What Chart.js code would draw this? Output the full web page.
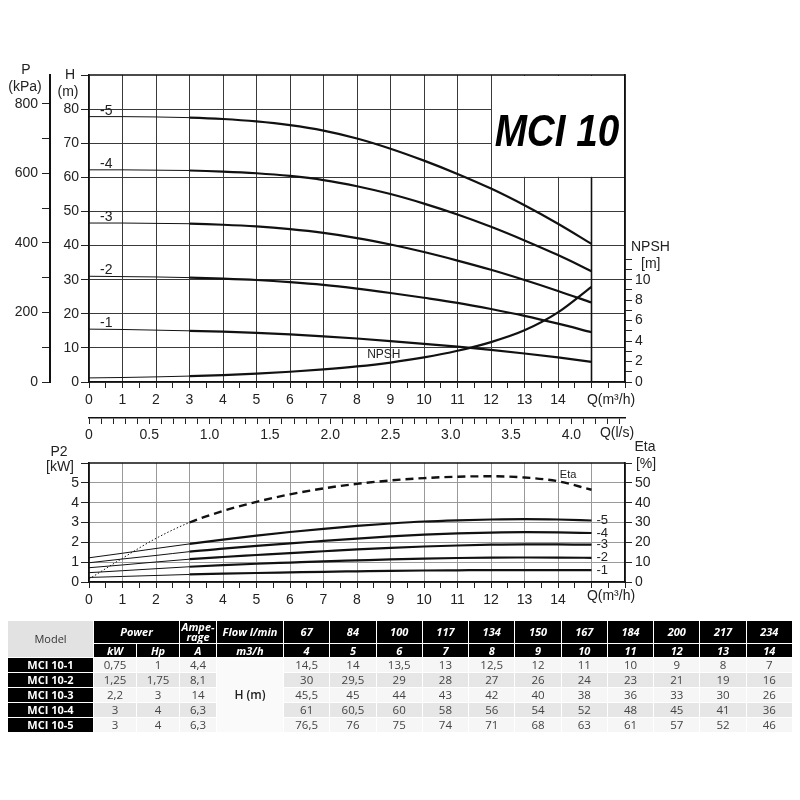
<!DOCTYPE html>
<html>
<head>
<meta charset="utf-8">
<script src="https://cdn.jsdelivr.net/npm/chart.js@4.4.1/dist/chart.umd.min.js"></script>
<style>
  html, body { margin: 0; padding: 0; background: #fff; }
  #wrap { position: relative; width: 800px; height: 800px; overflow: hidden; }
  #topChart { position: absolute; left: 0; top: 60px; }
  #botChart { position: absolute; left: 0; top: 436px; }
  #specs { position: absolute; left: 7px; top: 620px; width: 786px; table-layout: fixed;
    border-collapse: separate; border-spacing: 1px; font-family: "Open Sans", sans-serif; font-size: 11.5px; }
  #specs th { background: #000; color: #fff; font-style: italic; font-weight: bold; padding: 0; text-align: center; line-height: 12px; font-size: 11px; }
  #specs th.model { background: #e2e2e2; color: #333; font-style: normal; font-weight: normal; }
  #specs tr.h1 th { height: 22px; }
  #specs tr.h2 th { height: 13px; }
  #specs td { text-align: center; color: #444; padding: 0; height: 14px; line-height: 14px; }
  #specs td.name { background: #000; color: #fff; font-weight: bold; font-size: 11px; }
  #specs tr.odd td { background: #f6f6f6; }
  #specs tr.even td { background: #e6e6e6; }
  #specs td.head { background: #fafafa !important; color: #222; font-weight: 600; font-size: 12px; }
  #specs tr td.name { background: #000; }
</style>
</head>
<body>
<div id="wrap">
  <canvas id="topChart" width="800" height="390"></canvas>
  <canvas id="botChart" width="800" height="174"></canvas>
  <table id="specs"></table>
</div>
<script>
// flow points of the curves, Q in m3/h
const qPoints = [0, 1, 2, 3, 4, 5, 6, 7, 8, 9, 10, 11, 12, 13, 14, 15];

// head H (m) per stage count
const head1 = [15.5, 15.4, 15.2, 15, 14.75, 14.4, 13.95, 13.4, 12.75, 12.0, 11.2, 10.35, 9.4, 8.35, 7.2, 5.9];
const head2 = [31, 30.9, 30.8, 30.6, 30.3, 29.9, 29.3, 28.5, 27.4, 26.1, 24.7, 23.2, 21.4, 19.4, 17.1, 14.6];
const head3 = [46.6, 46.6, 46.5, 46.4, 46.1, 45.6, 44.8, 43.7, 42.2, 40.3, 38.1, 35.6, 32.9, 29.9, 26.7, 23.3];
const head4 = [62.2, 62.2, 62.1, 62, 61.7, 61.2, 60.4, 59.2, 57.4, 55.1, 52.3, 49.1, 45.5, 41.5, 37.2, 32.5];
const head5 = [77.8, 77.8, 77.7, 77.5, 77.1, 76.4, 75.3, 73.7, 71.4, 68.4, 64.9, 61.0, 56.7, 51.8, 46.4, 40.5];
const npshReq = [0.4, 0.44, 0.5, 0.58, 0.68, 0.82, 1.0, 1.23, 1.52, 1.9, 2.4, 3.05, 3.9, 5.05, 6.8, 9.3];

// shaft power P2 (kW) per stage count
const power1 = [0.23, 0.28, 0.33, 0.38, 0.42, 0.455, 0.485, 0.515, 0.54, 0.565, 0.58, 0.59, 0.6, 0.6, 0.6, 0.6];
const power2 = [0.47, 0.57, 0.67, 0.77, 0.85, 0.92, 0.98, 1.04, 1.09, 1.14, 1.18, 1.21, 1.23, 1.235, 1.23, 1.22];
const power3 = [0.72, 0.86, 1.01, 1.15, 1.26, 1.36, 1.46, 1.55, 1.64, 1.72, 1.79, 1.84, 1.88, 1.9, 1.9, 1.88];
const power4 = [0.97, 1.16, 1.34, 1.53, 1.68, 1.82, 1.95, 2.07, 2.19, 2.3, 2.39, 2.45, 2.49, 2.51, 2.5, 2.47];
const power5 = [1.22, 1.45, 1.69, 1.92, 2.14, 2.34, 2.52, 2.68, 2.83, 2.95, 3.05, 3.11, 3.15, 3.17, 3.15, 3.1];
const efficiency = [1.5, 12, 22, 30, 35.8, 40.4, 44.2, 47.2, 49.5, 51.2, 52.4, 53.1, 53.3, 52.7, 50.8, 46.5];

// table
const models = ['MCI 10-1', 'MCI 10-2', 'MCI 10-3', 'MCI 10-4', 'MCI 10-5'];
const powerKw = ['0,75', '1,25', '2,2', '3', '3'];
const powerHp = ['1', '1,75', '3', '4', '4'];
const ampere = ['4,4', '8,1', '14', '6,3', '6,3'];
const flowLmin = ['67', '84', '100', '117', '134', '150', '167', '184', '200', '217', '234'];
const flowM3h = ['4', '5', '6', '7', '8', '9', '10', '11', '12', '13', '14'];
const tableH1 = ['14,5', '14', '13,5', '13', '12,5', '12', '11', '10', '9', '8', '7'];
const tableH2 = ['30', '29,5', '29', '28', '27', '26', '24', '23', '21', '19', '16'];
const tableH3 = ['45,5', '45', '44', '43', '42', '40', '38', '36', '33', '30', '26'];
const tableH4 = ['61', '60,5', '60', '58', '56', '54', '52', '48', '45', '41', '36'];
const tableH5 = ['76,5', '76', '75', '74', '71', '68', '63', '61', '57', '52', '46'];

const FONT = '"Liberation Sans", Arial, sans-serif';
Chart.defaults.font.family = FONT;
Chart.defaults.font.size = 14;
Chart.defaults.color = '#222';

const pts = arr => qPoints.map((q, i) => ({ x: q, y: arr[i] }));
const thinThenThick = { borderWidth: c => (c.p0.parsed.x < 3 ? 1 : 2.2) };

function curve(arr, axis) {
  return {
    data: pts(arr), yAxisID: axis, borderColor: '#111', borderWidth: 2.2,
    pointRadius: 0, cubicInterpolationMode: 'monotone', segment: thinThenThick
  };
}

function stepTicks(from, to, step) {
  return scale => {
    const t = [];
    for (let v = from; v <= to + 1e-9; v += step) t.push({ value: Math.round(v * 1000) / 1000 });
    scale.ticks = t;
  };
}
const fixW = w => s => { s.width = w; };
const fixH = h => s => { s.height = h; };

// frame, white title box and free texts
const captions = {
  id: 'captions',
  beforeDatasetsDraw(chart, args, opts) {
    const { ctx, chartArea: a, scales } = chart;
    ctx.save();
    if (opts.box) {
      const bx = scales.x.getPixelForValue(opts.box.q);
      const by = scales.y.getPixelForValue(opts.box.v);
      ctx.fillStyle = '#fff';
      ctx.fillRect(bx + 1, a.top + 1, a.right - bx - 2, by - a.top - 1.5);
      const dx = scales.x.getPixelForValue(15);
      ctx.strokeStyle = '#111';
      ctx.lineWidth = 1.6;
      ctx.beginPath(); ctx.moveTo(dx, by); ctx.lineTo(dx, a.bottom); ctx.stroke();
    }
    ctx.strokeStyle = '#111';
    ctx.lineWidth = 1.5;
    ctx.strokeRect(a.left, a.top, a.right - a.left, a.bottom - a.top);
    ctx.restore();
  },
  afterDatasetsDraw(chart, args, opts) {
    const { ctx, scales } = chart;
    ctx.save();
    (opts.texts || []).forEach(t => {
      let x = t.x, y = t.y;
      if (t.q != null) { x = scales.x.getPixelForValue(t.q); y = scales[t.axis].getPixelForValue(t.v); }
      ctx.font = t.font || ('14px ' + FONT);
      ctx.fillStyle = t.color || '#222';
      ctx.textAlign = t.align || 'center';
      ctx.textBaseline = t.baseline || 'middle';
      ctx.translate(x, y);
      ctx.scale(t.sx || 1, 1);
      ctx.fillText(t.text, 0, 0);
      ctx.setTransform(1, 0, 0, 1, 0, 0);
    });
    ctx.restore();
  }
};

const heads = [head1, head2, head3, head4, head5];
const powers = [power1, power2, power3, power4, power5];

const qAxis = (gridColor, h) => ({
  type: 'linear', position: 'bottom', min: 0, max: 16, afterBuildTicks: stepTicks(0, 16, 0.5), afterFit: fixH(h),
  border: { color: '#111', width: 1.5 },
  grid: {
    color: c => (Number.isInteger(c.tick.value) && c.tick.value > 0 && c.tick.value < 16 ? gridColor : 'rgba(0,0,0,0)'),
    tickColor: '#222', tickLength: 6
  },
  ticks: { autoSkip: false, maxRotation: 0, padding: 4,
    callback: v => (Number.isInteger(v) && v <= 14 ? String(v) : '') }
});

new Chart(document.getElementById('topChart'), {
  type: 'line',
  data: {
    datasets: heads.map(h => curve(h, 'y')).concat([curve(npshReq, 'yN')])
  },
  options: {
    responsive: false, animation: false,
    layout: { padding: { top: 15, left: 0, right: 0, bottom: 0 } },
    plugins: {
      legend: { display: false }, tooltip: { enabled: false },
      captions: {
        box: { q: 12, v: 60 },
        texts: [
          { text: 'P', x: 26, y: 10 }, { text: '(kPa)', x: 25, y: 27 },
          { text: 'H', x: 70, y: 15 }, { text: '(m)', x: 68, y: 32 },
          { text: 'NPSH', x: 631, y: 187, align: 'left' }, { text: '[m]', x: 641, y: 204, align: 'left' },
          { text: 'Q(m³/h)', x: 611, y: 340 }, { text: 'Q(l/s)', x: 617, y: 373 },
          { text: 'MCI 10', x: 557, y: 86, font: 'italic bold 45px ' + FONT, color: '#000', baseline: 'alphabetic', sx: 0.86 },
          { text: 'NPSH', q: 8.8, v: 2.7, axis: 'yN', font: '12px ' + FONT }
        ].concat(heads.map((h, i) => ({ text: '-' + (i + 1), q: 0.33, v: h[0] + 1.7, axis: 'y', align: 'left' })))
      }
    },
    scales: {
      x: qAxis('#3a3a3a', 36),
      x2: {
        type: 'linear', position: 'bottom', min: 0, max: 16 / 3.6,
        afterBuildTicks: stepTicks(0, 4.4, 0.1), afterFit: fixH(32),
        border: { color: '#111', width: 1.5 },
        grid: { drawOnChartArea: false, tickColor: '#222', tickLength: 6 },
        ticks: { autoSkip: false, maxRotation: 0, padding: 3,
          callback: v => (Math.round(v * 10) % 5 === 0 ? (v === 0 ? '0' : v.toFixed(1)) : '') }
      },
      y: {
        type: 'linear', position: 'left', weight: 0, min: 0, max: 90,
        afterBuildTicks: stepTicks(0, 90, 5), afterFit: fixW(39),
        border: { color: '#111', width: 1.5 },
        grid: {
          color: c => (c.tick.value % 10 === 0 && c.tick.value > 0 && c.tick.value < 90 ? '#3a3a3a' : 'rgba(0,0,0,0)'),
          tickColor: '#222', tickLength: 8
        },
        ticks: { padding: 2, callback: v => (v % 10 === 0 && v <= 80 ? String(v) : '') }
      },
      yP: {
        type: 'linear', position: 'left', weight: 1, min: 0, max: 90 * 9.81,
        afterBuildTicks: stepTicks(0, 850, 50), afterFit: fixW(50),
        border: { color: '#111', width: 2 },
        grid: { drawOnChartArea: false, tickColor: '#222', tickLength: 8 },
        ticks: { padding: 4, callback: v => (v % 200 === 0 ? String(v) : '') }
      },
      yN: {
        type: 'linear', position: 'right', min: 0, max: 30,
        afterBuildTicks: stepTicks(0, 12, 1), afterFit: fixW(175),
        border: { color: '#111', width: 1.5 },
        grid: { drawOnChartArea: false, tickColor: '#222', tickLength: 7 },
        ticks: { padding: 3, callback: v => (v % 2 === 0 && v <= 10 ? String(v) : '') }
      }
    }
  },
  plugins: [captions]
});

const etaSet = {
  data: pts(efficiency), yAxisID: 'yE', borderColor: '#111', borderWidth: 2.4, pointRadius: 0,
  cubicInterpolationMode: 'monotone',
  segment: {
    borderWidth: c => (c.p0.parsed.x < 3 ? 1 : 2.4),
    borderDash: c => (c.p0.parsed.x < 3 ? [1.5, 2] : [8, 5])
  }
};

new Chart(document.getElementById('botChart'), {
  type: 'line',
  data: { datasets: powers.map(p => curve(p, 'y')).concat([etaSet]) },
  options: {
    responsive: false, animation: false,
    layout: { padding: { top: 27, left: 0, right: 0, bottom: 0 } },
    plugins: {
      legend: { display: false }, tooltip: { enabled: false },
      captions: {
        texts: [
          { text: 'P2', x: 59, y: 16 }, { text: '[kW]', x: 60, y: 31 },
          { text: 'Eta', x: 645, y: 11 }, { text: '[%]', x: 646, y: 28 },
          { text: 'Q(m³/h)', x: 611, y: 160 },
          { text: 'Eta', q: 14.3, v: 54, axis: 'yE', font: '11px ' + FONT }
        ].concat(powers.map((p, i) => ({ text: '-' + (i + 1), q: 15.15, v: p[15], axis: 'y', align: 'left', font: '13px ' + FONT })))
      }
    },
    scales: {
      x: qAxis('#9a9a9a', 28),
      y: {
        type: 'linear', position: 'left', min: 0, max: 6,
        afterBuildTicks: stepTicks(0, 6, 0.5), afterFit: fixW(89),
        border: { color: '#111', width: 1.5 },
        grid: {
          color: c => (Number.isInteger(c.tick.value) && c.tick.value > 0 && c.tick.value < 6 ? '#9a9a9a' : 'rgba(0,0,0,0)'),
          tickColor: '#222', tickLength: 8
        },
        ticks: { padding: 2, callback: v => (Number.isInteger(v) && v <= 5 ? String(v) : '') }
      },
      yE: {
        type: 'linear', position: 'right', min: 0, max: 60,
        afterBuildTicks: stepTicks(0, 60, 5), afterFit: fixW(175),
        border: { color: '#111', width: 1.5 },
        grid: { drawOnChartArea: false, tickColor: '#222', tickLength: 7 },
        ticks: { padding: 3, callback: v => (v % 10 === 0 && v <= 50 ? String(v) : '') }
      }
    }
  },
  plugins: [captions]
});

// spec table
const tableH = [tableH1, tableH2, tableH3, tableH4, tableH5];
let html = '<colgroup><col style="width:85px"><col style="width:42px"><col style="width:42px"><col style="width:36px"><col style="width:66px">'
  + flowLmin.map(() => '<col>').join('') + '</colgroup>';
html += '<tr class="h1"><th class="model" rowspan="2">Model</th><th colspan="2">Power</th><th style="line-height:10px">Ampe-<br>rage</th><th>Flow l/min</th>'
  + flowLmin.map(f => '<th>' + f + '</th>').join('') + '</tr>';
html += '<tr class="h2"><th>kW</th><th>Hp</th><th>A</th><th>m3/h</th>' + flowM3h.map(f => '<th>' + f + '</th>').join('') + '</tr>';
models.forEach((m, i) => {
  html += '<tr class="' + (i % 2 === 0 ? 'odd' : 'even') + '"><td class="name">' + m + '</td><td>' + powerKw[i] + '</td><td>' + powerHp[i]
    + '</td><td>' + ampere[i] + '</td>' + (i === 0 ? '<td class="head" rowspan="5">H (m)</td>' : '')
    + tableH[i].map(v => '<td>' + v + '</td>').join('') + '</tr>';
});
document.getElementById('specs').innerHTML = html;
</script>
</body>
</html>
